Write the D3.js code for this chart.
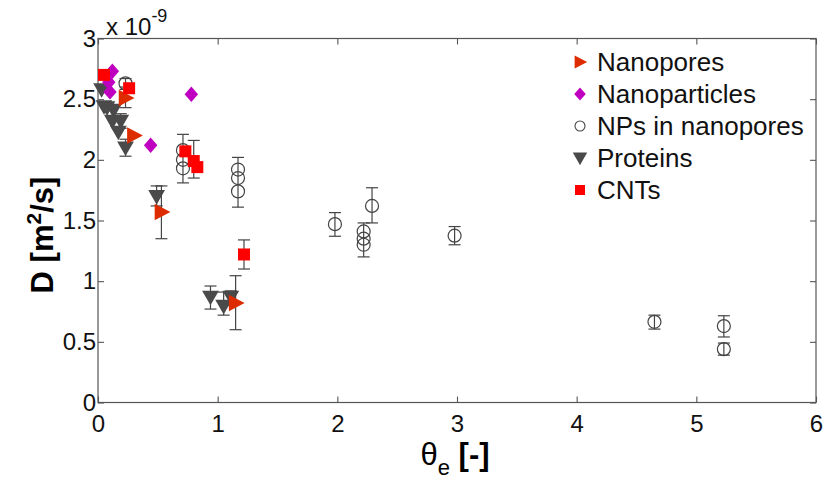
<!DOCTYPE html>
<html><head><meta charset="utf-8">
<script src="https://cdn.jsdelivr.net/npm/d3@7"></script>
<style>body{margin:0;background:#fff}svg{display:block}text{font-family:"Liberation Sans",Arial,sans-serif}</style>
</head><body><svg id="c" width="825" height="482"></svg>
<script>
// ---- data (D in units of 1e-9 m^2/s) ----
const nanoporesX = [0.23, 0.30, 0.53, 1.15];
const nanoporesY = [2.51, 2.20, 1.57, 0.82];
const nanoporesLo = [2.43, null, 1.35, 0.60];
const nanoporesHi = [2.58, null, 1.785, 1.045];

const nanoparticlesX = [0.12, 0.09, 0.10, 0.44, 0.78];
const nanoparticlesY = [2.73, 2.64, 2.56, 2.12, 2.54];

const npsX = [0.23, 0.71, 0.71, 0.71, 1.17, 1.17, 1.17, 1.98, 2.22, 2.22, 2.22, 2.29, 2.98, 4.65, 5.23, 5.23];
const npsY = [2.63, 2.08, 2.00, 1.93, 1.92, 1.85, 1.74, 1.47, 1.41, 1.35, 1.30, 1.62, 1.375, 0.665, 0.63, 0.44];
const npsLo = [2.60, 1.81, null, null, 1.61, null, null, 1.37, 1.20, null, null, 1.48, 1.30, 0.605, 0.54, 0.39];
const npsHi = [2.67, 2.21, null, null, 2.02, null, null, 1.565, 1.48, null, null, 1.77, 1.45, 0.72, 0.715, 0.49];

const proteinsX = [0.03, 0.05, 0.075, 0.13, 0.12, 0.19, 0.17, 0.23, 0.49, 0.94, 1.05, 1.11];
const proteinsY = [2.58, 2.44, 2.43, 2.41, 2.32, 2.32, 2.23, 2.10, 1.70, 0.87, 0.795, 0.87];
const proteinsLo = [null, null, null, null, null, 2.26, null, 2.03, 1.62, 0.77, 0.72, 0.80];
const proteinsHi = [null, null, null, null, null, 2.38, null, 2.17, 1.785, 0.96, 0.91, 0.92];

const cntsX = [0.05, 0.26, 0.73, 0.80, 0.83, 1.22];
const cntsY = [2.70, 2.59, 2.07, 1.99, 1.94, 1.22];
const cntsLo = [null, null, null, 1.85, null, 1.10];
const cntsHi = [null, null, null, 2.16, null, 1.34];

const xTicks = [0, 1, 2, 3, 4, 5, 6];
const yTicks = [0, 0.5, 1, 1.5, 2, 2.5, 3];
const legendNames = ["Nanopores", "Nanoparticles", "NPs in nanopores", "Proteins", "CNTs"];

// ---- layout ----
const svg = d3.select("#c");
const L = 98, R = 816, T = 38.5, B = 402.5;
const x = d3.scaleLinear().domain([0, 6]).range([L, R]);
const y = d3.scaleLinear().domain([0, 3]).range([B, T]);
const barCol = "#444";

// box
svg.append("rect").attr("x", L).attr("y", T).attr("width", R - L).attr("height", B - T)
  .attr("fill", "none").attr("stroke", "#555").attr("stroke-width", 1.2);

// axes with inward ticks
const gx = svg.append("g").attr("transform", `translate(0,${B})`)
  .call(d3.axisBottom(x).tickValues(xTicks).tickSize(-6).tickPadding(12).tickFormat(d3.format("d")));
const gxt = svg.append("g").attr("transform", `translate(0,${T})`)
  .call(d3.axisTop(x).tickValues(xTicks).tickSize(-6).tickFormat(""));
const gy = svg.append("g").attr("transform", `translate(${L},0)`)
  .call(d3.axisLeft(y).tickValues(yTicks).tickSize(-6).tickPadding(4).tickFormat(d => d3.format("")(d)));
const gyr = svg.append("g").attr("transform", `translate(${R},0)`)
  .call(d3.axisRight(y).tickValues(yTicks).tickSize(-6).tickFormat(""));
[gx, gxt, gy, gyr].forEach(g => {
  g.select(".domain").remove();
  g.selectAll(".tick line").attr("stroke", "#555").attr("stroke-width", 1.1);
  g.selectAll("text").attr("fill", "#111").style("font-size", "24px");
});
gy.selectAll(".tick text").attr("dx", 2);

// exponent
const ex = svg.append("text").attr("x", 106).attr("y", 35).attr("fill", "#111").style("font-size", "24px");
ex.append("tspan").text("x 10");
ex.append("tspan").attr("dy", -13).style("font-size", "18px").text("-9");

// axis titles
const yl = svg.append("text").attr("transform", "translate(53,235) rotate(-90)")
  .attr("text-anchor", "middle").attr("fill", "#000").style("font-size", "31px").style("font-weight", "bold");
yl.append("tspan").text("D [m");
yl.append("tspan").attr("dy", -12).style("font-size", "21px").text("2");
yl.append("tspan").attr("dy", 12).text("/s]");

const xl = svg.append("text").attr("x", 455).attr("y", 465).attr("text-anchor", "middle").attr("fill", "#000").style("font-size", "31px");
xl.append("tspan").text("θ");
xl.append("tspan").attr("dy", 10).style("font-size", "22px").text("e");
xl.append("tspan").attr("dy", -10).text(" ");
xl.append("tspan").style("font-weight", "bold").text("[-]");

// marker shapes
const triRight = s => `M${-s * 0.45},${-s * 0.55}L${s * 0.6},0L${-s * 0.45},${s * 0.55}Z`;
const triDown = s => `M${-s * 0.6},${-s * 0.45}L${s * 0.6},${-s * 0.45}L0,${s * 0.6}Z`;
const diamond = s => `M0,${-s * 0.55}L${s * 0.48},0L0,${s * 0.55}L${-s * 0.48},0Z`;
const square = s => `M${-s / 2},${-s / 2}h${s}v${s}h${-s}Z`;

function errorBars(xs, los, his) {
  const g = svg.append("g").attr("stroke", barCol).attr("stroke-width", 1.2);
  xs.forEach((xv, i) => {
    if (los[i] == null) return;
    const cx = x(xv), y1 = y(los[i]), y2 = y(his[i]);
    g.append("line").attr("x1", cx).attr("x2", cx).attr("y1", y1).attr("y2", y2);
    g.append("line").attr("x1", cx - 6).attr("x2", cx + 6).attr("y1", y1).attr("y2", y1);
    g.append("line").attr("x1", cx - 6).attr("x2", cx + 6).attr("y1", y2).attr("y2", y2);
  });
}

// NPs in nanopores
errorBars(npsX, npsLo, npsHi);
svg.append("g").selectAll("circle").data(npsX).join("circle")
  .attr("cx", d => x(d)).attr("cy", (d, i) => y(npsY[i])).attr("r", 6.5)
  .attr("fill", "none").attr("stroke", "#444").attr("stroke-width", 1.2);

// Proteins
errorBars(proteinsX, proteinsLo, proteinsHi);
svg.append("g").selectAll("path").data(proteinsX).join("path")
  .attr("transform", (d, i) => `translate(${x(d)},${y(proteinsY[i])})`)
  .attr("d", triDown(14)).attr("fill", "#4a4a4a");

// Nanoparticles
svg.append("g").selectAll("path").data(nanoparticlesX).join("path")
  .attr("transform", (d, i) => `translate(${x(d)},${y(nanoparticlesY[i])})`)
  .attr("d", diamond(14)).attr("fill", "#bf00c0");

// Nanopores
errorBars(nanoporesX, nanoporesLo, nanoporesHi);
svg.append("g").selectAll("path").data(nanoporesX).join("path")
  .attr("transform", (d, i) => `translate(${x(d)},${y(nanoporesY[i])})`)
  .attr("d", triRight(15)).attr("fill", "#dd2c00");

// CNTs
errorBars(cntsX, cntsLo, cntsHi);
svg.append("g").selectAll("path").data(cntsX).join("path")
  .attr("transform", (d, i) => `translate(${x(d)},${y(cntsY[i])})`)
  .attr("d", square(12)).attr("fill", "#ff0000");

// legend
const lg = svg.append("g");
const legMarks = [
  g => g.append("path").attr("d", triRight(12)).attr("fill", "#dd2c00"),
  g => g.append("path").attr("d", diamond(12)).attr("fill", "#bf00c0"),
  g => g.append("circle").attr("r", 5).attr("fill", "none").attr("stroke", "#444").attr("stroke-width", 1.1),
  g => g.append("path").attr("d", triDown(12)).attr("fill", "#4a4a4a"),
  g => g.append("path").attr("d", square(10)).attr("fill", "#ff0000")
];
legendNames.forEach((name, i) => {
  const cy = 62 + i * 32;
  const g = lg.append("g").attr("transform", `translate(580,${cy})`);
  legMarks[i](g);
  lg.append("text").attr("x", 597).attr("y", cy + 9).attr("fill", "#111").style("font-size", "26px").text(name);
});
</script></body></html>
